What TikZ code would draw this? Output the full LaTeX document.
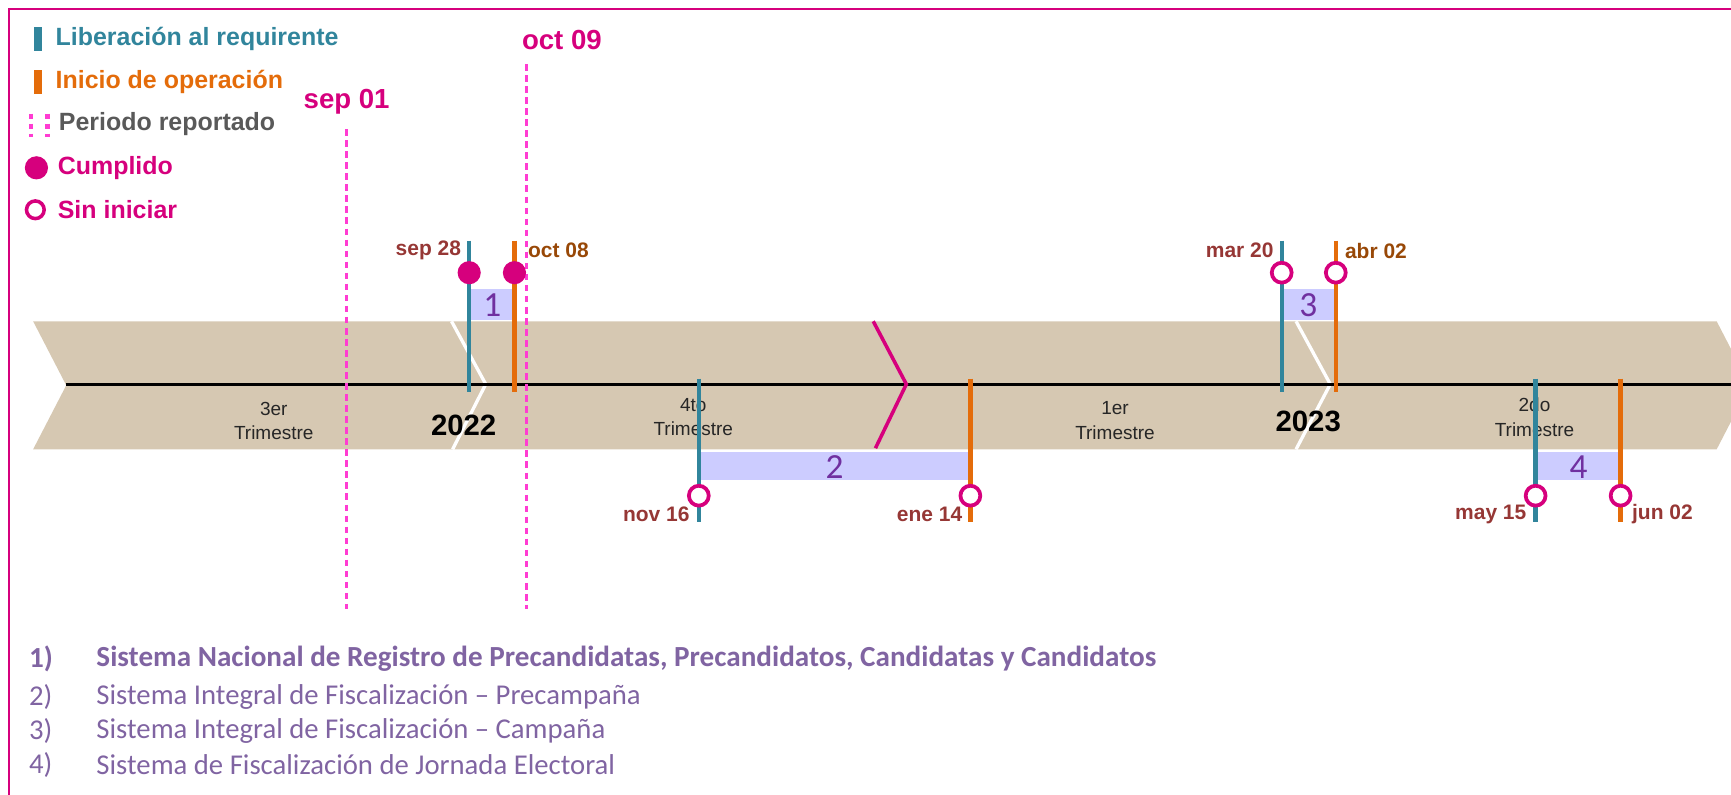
\documentclass[tikz,border=0pt]{standalone}
\usepackage{fontspec}
\setmainfont{Liberation Sans}
\newfontfamily\calfont{Carlito}
\definecolor{tealc}{RGB}{49,133,156}
\definecolor{orangec}{RGB}{228,108,10}
\definecolor{magc}{RGB}{214,0,125}
\definecolor{pinkd}{RGB}{255,60,210}
\definecolor{tanc}{RGB}{214,200,178}
\definecolor{lav}{RGB}{204,204,255}
\definecolor{purp}{RGB}{112,48,160}
\definecolor{listc}{RGB}{128,100,162}
\definecolor{dred}{RGB}{150,55,53}
\definecolor{dorange}{RGB}{152,72,7}
\definecolor{grayt}{RGB}{89,89,89}
\begin{document}
\begin{tikzpicture}[x=0.5pt,y=-0.5pt,
  tealline/.style={draw=tealc, line width=2pt},
  orangeline/.style={draw=orangec, line width=2pt},
  repline/.style={draw=pinkd, line width=1.3pt, dash pattern=on 3pt off 2pt},
  donec/.style={circle, fill=magc, inner sep=0pt, minimum size=10.5pt},
  openc/.style={circle, draw=magc, fill=white, line width=1.7pt, inner sep=0pt, minimum size=9pt},
  legtext/.style={anchor=west, font=\bfseries\fontsize{11.3}{13}\selectfont, inner sep=0pt},
  datelab/.style={font=\bfseries\fontsize{9.5}{11}\selectfont, inner sep=0pt},
  replab/.style={font=\bfseries\fontsize{12.5}{14}\selectfont, text=magc, inner sep=0pt},
  trim/.style={font=\fontsize{8.6}{11}\selectfont, align=center, text=black!85, inner sep=0pt},
  year/.style={font=\bfseries\fontsize{13.3}{15}\selectfont, inner sep=0pt},
  boxnum/.style={font=\calfont\fontsize{16}{18}\selectfont, text=purp, inner sep=0pt},
  listtext/.style={anchor=west, font=\calfont\fontsize{13}{15}\selectfont, text=listc, inner sep=0pt},
  listbold/.style={anchor=west, font=\calfont\bfseries\fontsize{13.2}{15}\selectfont, text=listc, inner sep=0pt}
]
\useasboundingbox (0,0) rectangle (1568,720);
% frame
\draw[magc, line width=1.2pt] (8,725) -- (8,8) -- (1575,8);

% band
\fill[tanc] (30,291) -- (1555,291) -- (1585,349) -- (1555,407) -- (30,407) -- (60,349) -- cycle;
\draw[white, line width=1.5pt] (409,291) -- (440,348) -- (410,407);
\draw[white, line width=1.5pt] (1174,291) -- (1205,348) -- (1174,407);
\draw[black, line width=1.2pt] (60,348) -- (1568,348);
\draw[magc, line width=1.6pt] (791,291) -- (821,348) -- (793,406);

% period labels
\node[trim] (t3) at (248,381) {3er\\Trimestre};
\node[trim] (t4) at (628,378) {4to\\Trimestre};
\node[trim] (t1) at (1010,381) {1er\\Trimestre};
\node[trim] (t2) at (1390,378) {2do\\Trimestre};
\node[year] (y22) at (420,385) {2022};
\node[year] (y23) at (1185,382) {2023};

% boxes
\fill[lav] (427,262) rectangle (464,290);
\node[boxnum] (b1) at (446,276) {1};
\fill[lav] (635,409) rectangle (877,435);
\node[boxnum] (b2) at (756,423) {2};
\fill[lav] (1163,262) rectangle (1208,290);
\node[boxnum] (b3) at (1185,276) {3};
\fill[lav] (1393,409) rectangle (1466,435);
\node[boxnum] (b4) at (1430,423) {4};

% reported period lines
\draw[repline] (314,117) -- (314,552);
\draw[repline] (477,58) -- (477,552);
\node[replab] (s01) at (314,92) {sep 01};
\node[replab] (o09) at (509,36) {oct 09};

% event lines
\draw[tealline] (425,218) -- (425,355);
\draw[orangeline] (466,218) -- (466,355);
\draw[tealline] (1161,218) -- (1161,355);
\draw[orangeline] (1210,218) -- (1210,355);
\draw[tealline] (633,343) -- (633,473);
\draw[orangeline] (879,343) -- (879,473);
\draw[tealline] (1391,343) -- (1391,473);
\draw[orangeline] (1468,343) -- (1468,473);

% circles
\node[donec] (c1) at (425,247) {};
\node[donec] (c2) at (466,247) {};
\node[openc] (c3) at (1161,247) {};
\node[openc] (c4) at (1210,247) {};
\node[openc] (c5) at (633,449) {};
\node[openc] (c6) at (879,449) {};
\node[openc] (c7) at (1391,449) {};
\node[openc] (c8) at (1468,449) {};

% date labels
\node[datelab, anchor=east, text=dred] (d1) at (418,227) {sep 28};
\node[datelab, anchor=west, text=dorange] (d2) at (478,227) {oct 08};
\node[datelab, anchor=east, text=dred] (d3) at (1154,227) {mar 20};
\node[datelab, anchor=west, text=dorange] (d4) at (1218,227) {abr 02};
\node[datelab, anchor=east, text=dred] (d5) at (625,466) {nov 16};
\node[datelab, anchor=east, text=dred] (d6) at (872,466) {ene 14};
\node[datelab, anchor=east, text=dred] (d7) at (1383,466) {may 15};
\node[datelab, anchor=west, text=dred] (d8) at (1478,466) {jun 02};

% legend
\fill[tealc] (31,24) rectangle (38,46);
\node[legtext, text=tealc] (l1) at (50,35) {Liberación al requirente};
\fill[orangec] (31,63) rectangle (38,85);
\node[legtext, text=orangec] (l2) at (50,74) {Inicio de operación};
\draw[draw=pinkd, line width=2pt, dash pattern=on 2.5pt off 2pt] (28,103) -- (28,124);
\draw[draw=pinkd, line width=2pt, dash pattern=on 2.5pt off 2pt] (43,103) -- (43,124);
\node[legtext, text=grayt] (l3) at (53,112) {Periodo reportado};
\node[donec] (lc1) at (33,152) {};
\node[legtext, text=magc] (l4) at (52,152) {Cumplido};
\node[openc, minimum size=8pt, line width=1.6pt] (lc2) at (32,190) {};
\node[legtext, text=magc] (l5) at (52,190) {Sin iniciar};

% list
\node[listbold] (n1) at (26,597) {1)};
\node[listbold] (i1) at (87,597) {Sistema Nacional de Registro de Precandidatas, Precandidatos, Candidatas y Candidatos};
\node[listtext] (n2) at (26,631) {2)};
\node[listtext] (i2) at (87,631) {Sistema Integral de Fiscalización – Precampaña};
\node[listtext] (n3) at (26,662) {3)};
\node[listtext] (i3) at (87,662) {Sistema Integral de Fiscalización – Campaña};
\node[listtext] (n4) at (26,693) {4)};
\node[listtext] (i4) at (87,693) {Sistema de Fiscalización de Jornada Electoral};
\end{tikzpicture}
\end{document}
